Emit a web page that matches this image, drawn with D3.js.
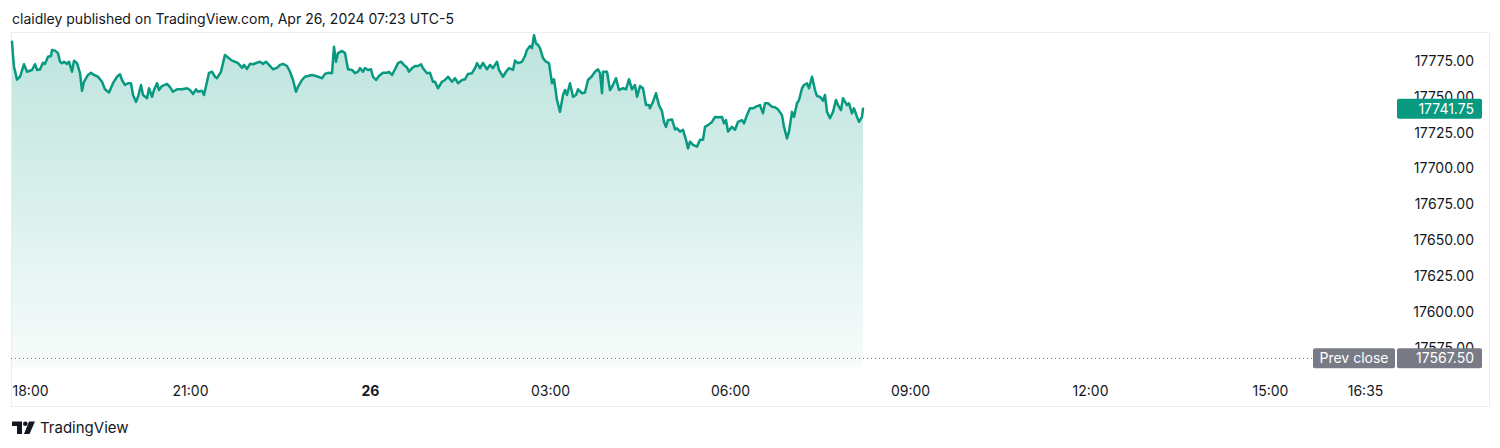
<!DOCTYPE html>
<html>
<head>
<meta charset="utf-8">
<script src="https://cdn.jsdelivr.net/npm/d3@7"></script>
<style>
  html, body { margin: 0; padding: 0; background: #ffffff; }
  svg { display: block; }
  text { font-family: Inter, "Noto Sans", Roboto, sans-serif; }
</style>
</head>
<body>
<svg id="chart" width="1500" height="448"></svg>
<script>
// ---------------- DATA ----------------
// minutes after Apr 25, 2024 18:00 (UTC-5 session clock)
const minutes = [
  2,3,4,7,10,14,17,22,25,27,30,33,35,38,41,42,45,48,50,52,54,57,59,62,64,67,70,72,74,78,81,84,88,92,95,99,103,107,110,112,115,118,121,123,126,128,131,133,137,139,142,144,147,149,152,157,160,163,167,172,
  177,180,183,186,188,192,194,197,199,202,205,207,211,213,215,218,222,225,228,232,234,237,240,243,247,250,253,256,259,263,267,270,273,277,280,283,286,288,292,295,298,302,305,308,312,315,318,322,323,324,326,328,332,335,338,342,345,348,
  350,353,355,358,361,363,366,369,373,377,379,382,385,388,391,394,397,399,402,405,408,411,413,417,420,423,425,428,432,435,438,442,445,448,452,455,458,462,465,467,470,473,477,480,483,487,489,493,496,499,503,505,508,512,515,517,520,522,524,526,528,
  530,533,536,539,542,544,547,550,553,555,557,560,563,566,568,572,575,578,582,585,588,590,592,593,597,600,603,606,609,613,616,619,622,625,627,630,633,636,639,640,643,646,649,652,
  654,656,658,662,665,667,670,673,676,678,680,683,687,690,693,695,698,702,705,708,712,714,716,718,722,725,728,732,734,737,740,743,747,750,753,755,758,762,765,768,772,774,777,779,782,784,787,789,792,794,797,799,802,805,807,810,813,815,817,820,823,826,828,831,833,837,839,842,844,847,849,852,853
];
const prices = [
  17788.5,17779,17771,17762,17764,17772.75,17767.5,17768.75,17772.75,17768.75,17769,17773.75,17773,17778,17778.5,17782.75,17782.25,17780.5,17774.5,17773.5,17774.5,17773,17774.5,17767.5,17775.25,17773.5,17766.5,17754.25,17760.5,17765.25,17766.75,17765.25,17764,17760.5,17755.25,17753,17759.5,17764,17765.75,17761.75,17758.25,17759.5,17759.5,17751.25,17746.5,17750,17758.25,17751.25,17749,17756,17750,17754.75,17759.5,17754.75,17757.5,17759,17756.75,17753.5,17755.25,17755.25,
  17756,17754.75,17752,17755.25,17753.5,17754.25,17751.25,17760.5,17766.75,17767.5,17764,17763,17767.5,17773.5,17779.25,17777.5,17775.25,17774.5,17773.5,17770.25,17772.25,17769.5,17773,17772.75,17773.75,17774.5,17773,17774.5,17772.25,17769.25,17770.25,17772.25,17773,17771.5,17767.5,17761.75,17753.5,17757,17761.75,17764,17764.5,17765.25,17764.75,17764,17763,17766,17766.75,17766.5,17775.75,17785,17774.5,17780.5,17782,17780.5,17769.25,17768.75,17766.5,17767.5,
  17770,17767.5,17770,17768.75,17769.25,17764,17761.75,17764.5,17766.75,17766.75,17767.5,17765.25,17769.25,17773.5,17774.5,17772.25,17770.5,17767.5,17770,17771.5,17771.5,17772.75,17770,17766.5,17766.75,17760.5,17760.5,17756,17760.5,17761.75,17764,17760.5,17763,17759.5,17761.75,17762.25,17766,17766.5,17770,17773.5,17770,17773.75,17769.25,17772.25,17770,17774.5,17768.75,17764,17767.5,17770,17768.75,17775.25,17773.5,17774.5,17778.5,17782.75,17785.5,17784,17793,17787.25,17786.25,
  17784,17777,17774.5,17773.5,17759.5,17762.25,17747.75,17739.5,17751.25,17754.75,17751.25,17759.5,17750,17751.25,17755.25,17752.5,17753,17761.75,17764.5,17767.5,17769.25,17766.5,17752.5,17767.5,17767.5,17754.75,17758.25,17763,17754.75,17756,17755.25,17762.25,17755.25,17758.25,17750,17757.5,17756,17744.25,17744.25,17742,17746.5,17752.5,17744,17740,
  17732.5,17729,17733.75,17734.25,17727.25,17728,17725.75,17727,17720,17714,17718.75,17716.5,17715.25,17720,17720,17729,17730.25,17732.5,17736,17735.75,17736,17731.5,17733.75,17725.75,17729,17727,17732.5,17733.75,17731.5,17737.25,17742,17742,17743.5,17744.25,17738.5,17745.5,17745.5,17743,17742.75,17741.25,17737.25,17729,17721,17725.75,17739.5,17736,17745.5,17747.75,17756,17758.25,17759.5,17756,17764,17754.75,17750.5,17750,17747.25,17751.25,17739.5,17735,17739.5,17747.75,17744.25,17740.75,17749,17744.25,17745.5,17738.5,17742,17736,17732.5,17736,17741.75
];
const priceTicks = [17775, 17750, 17725, 17700, 17675, 17650, 17625, 17600, 17575];
const timeTickMinutes = [0, 180, 360, 540, 720, 900, 1080, 1260, 1355];
const timeTickLabels = ["18:00", "21:00", "26", "03:00", "06:00", "09:00", "12:00", "15:00", "16:35"];
const lastPrice = 17741.75;
const prevClose = 17567.50;
const headerText = "claidley published on TradingView.com, Apr 26, 2024 07:23 UTC-5";

// ---------------- CHART ----------------
const svg = d3.select("#chart");
const start = Date.UTC(2024, 3, 25, 18, 0);
const toDate = m => new Date(start + m * 60000);
const data = minutes.map((m, i) => ({ t: toDate(m), v: prices[i] }));

const x = d3.scaleUtc().domain([toDate(0), toDate(1385)]).range([10, 1395]);
const y = d3.scaleLinear().domain([17575, 17775]).range([347.6, 61]);

const green = "#089981";
const textColor = "#131722";
const axisFont = "Inter, 'Noto Sans', sans-serif";

// header
svg.append("text").attr("x", 12).attr("y", 24)
  .attr("font-size", 14).attr("fill", textColor).text(headerText);

// frame
svg.append("rect").attr("x", 11.5).attr("y", 32.5).attr("width", 1478).attr("height", 374)
  .attr("fill", "none").attr("stroke", "#e8f0ef").attr("stroke-width", 1);

// gradient
const defs = svg.append("defs");
const grad = defs.append("linearGradient").attr("id", "areaGrad")
  .attr("gradientUnits", "userSpaceOnUse").attr("x1", 0).attr("x2", 0)
  .attr("y1", y(d3.max(prices))).attr("y2", 367);
grad.append("stop").attr("offset", 0).attr("stop-color", green).attr("stop-opacity", 0.27);
grad.append("stop").attr("offset", 1).attr("stop-color", green).attr("stop-opacity", 0.03);

const area = d3.area().x(d => x(d.t)).y0(367).y1(d => y(d.v));
svg.append("path").datum(data).attr("d", area).attr("fill", "url(#areaGrad)");

const line = d3.line().x(d => x(d.t)).y(d => y(d.v));
svg.append("path").datum(data).attr("d", line)
  .attr("fill", "none").attr("stroke", green).attr("stroke-width", 2.5)
  .attr("stroke-linejoin", "round").attr("stroke-linecap", "round");

// prev close dotted line
svg.append("line").attr("x1", 11).attr("x2", 1312)
  .attr("y1", Math.round(y(prevClose)) + 0.5).attr("y2", Math.round(y(prevClose)) + 0.5)
  .attr("stroke", "#787b86").attr("stroke-width", 1).attr("stroke-dasharray", "1,3");

// price axis labels
const yAxis = d3.axisRight(y).tickValues(priceTicks).tickSize(0).tickPadding(0)
  .tickFormat(d3.format(".2f"));
const ya = svg.append("g").attr("transform", "translate(1474,0)").call(yAxis);
ya.select(".domain").remove();
ya.selectAll("text").attr("text-anchor", "end").attr("x", 0)
  .attr("font-size", 14).attr("font-family", axisFont)
  .attr("fill", textColor);

// last price box
const ly = y(lastPrice);
svg.append("rect").attr("x", 1397).attr("y", ly - 10).attr("width", 85).attr("height", 20)
  .attr("rx", 2).attr("fill", green);
svg.append("text").attr("x", 1474).attr("y", ly).attr("dy", "0.35em")
  .attr("text-anchor", "end").attr("font-size", 14).attr("fill", "#ffffff")
  .text(d3.format(".2f")(lastPrice));

// prev close boxes
const py = y(prevClose);
svg.append("rect").attr("x", 1313).attr("y", py - 10).attr("width", 82).attr("height", 20)
  .attr("rx", 2).attr("fill", "#787b86");
svg.append("text").attr("x", 1354).attr("y", py).attr("dy", "0.35em")
  .attr("text-anchor", "middle").attr("font-size", 14).attr("fill", "#ffffff").text("Prev close");
svg.append("rect").attr("x", 1397).attr("y", py - 10).attr("width", 85).attr("height", 20)
  .attr("rx", 2).attr("fill", "#787b86");
svg.append("text").attr("x", 1474).attr("y", py).attr("dy", "0.35em")
  .attr("text-anchor", "end").attr("font-size", 14).attr("fill", "#ffffff")
  .text(d3.format(".2f")(prevClose));

// time axis labels
const xAxis = d3.axisBottom(x).tickValues(timeTickMinutes.map(toDate)).tickSize(0).tickPadding(0)
  .tickFormat((d, i) => timeTickLabels[i]);
const xa = svg.append("g").attr("transform", "translate(0,386)").call(xAxis);
xa.select(".domain").remove();
xa.selectAll("text").attr("font-size", 14).attr("font-family", axisFont)
  .attr("fill", textColor).attr("dy", "0.35em").attr("y", 5)
  .attr("font-weight", (d, i) => timeTickLabels[i] === "26" ? "bold" : "normal");
// keep the first label inside the frame
xa.selectAll("text").filter((d, i) => i === 0).attr("text-anchor", "start").attr("x", 2);

// TradingView logo
const logo = svg.append("g").attr("fill", textColor);
logo.append("path").attr("d", "M12,421.5 H22 V434 H17 V426 H12 Z");
logo.append("circle").attr("cx", 25.3).attr("cy", 423.8).attr("r", 2.3);
logo.append("path").attr("d", "M29,421.5 H35 L29.5,434 H24 Z");
svg.append("text").attr("x", 40).attr("y", 433).attr("font-size", 15)
  .attr("fill", textColor).text("TradingView");
</script>
</body>
</html>
